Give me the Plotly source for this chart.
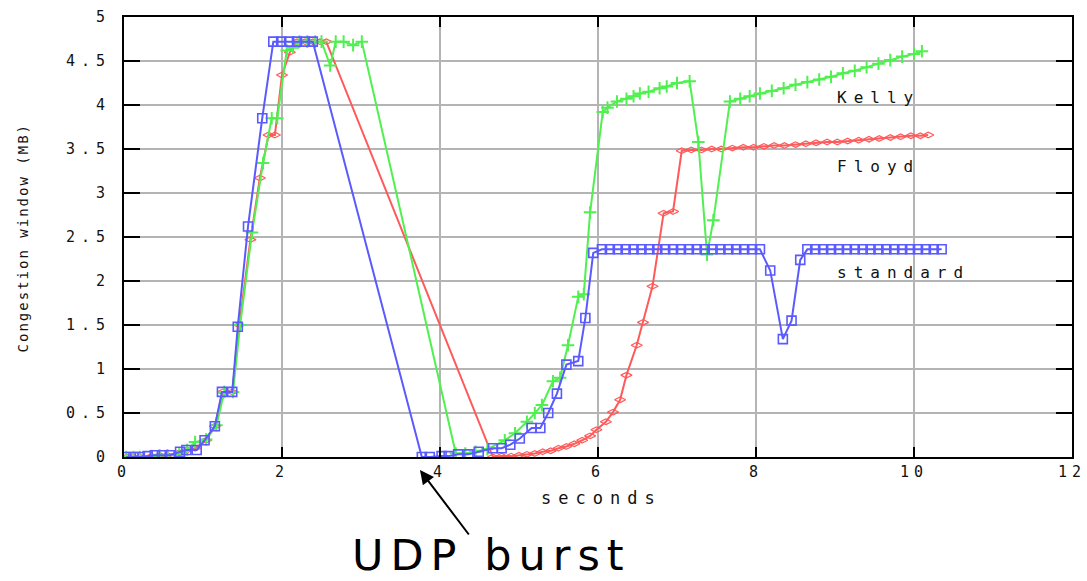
import plotly.graph_objects as go

# ---- data (seconds, congestion window MB) ----
std_x = [0.03, 0.12, 0.2, 0.3, 0.39, 0.48, 0.58, 0.71, 0.79, 0.92, 1.02, 1.15, 1.24, 1.37, 1.44, 1.57, 1.75,
         1.89, 1.99, 2.09, 2.19, 2.29, 2.39,
         3.77, 3.87, 4.02, 4.11, 4.23, 4.36, 4.49, 4.67, 4.78, 4.89, 5.01, 5.16, 5.27, 5.37, 5.48, 5.6, 5.75,
         5.84, 5.94,
         6.05, 6.15, 6.25, 6.35, 6.45, 6.55, 6.65, 6.75, 6.85, 6.95, 7.05, 7.15, 7.25, 7.35, 7.45, 7.55, 7.65,
         7.75, 7.85, 7.95, 8.05,
         8.18, 8.34, 8.45, 8.56,
         8.65, 8.75, 8.85, 8.95, 9.05, 9.15, 9.25, 9.35, 9.45, 9.55, 9.65, 9.75, 9.85, 9.95, 10.05, 10.15,
         10.25, 10.35]
std_y = [0, 0, 0, 0.01, 0.02, 0.02, 0.02, 0.06, 0.08, 0.08, 0.19, 0.35, 0.74, 0.74, 1.48, 2.62, 3.85,
         4.72, 4.72, 4.72, 4.72, 4.72, 4.72,
         0, 0, 0.01, 0.01, 0.03, 0.03, 0.06, 0.1, 0.1, 0.14, 0.21, 0.33, 0.33, 0.5, 0.72, 1.05, 1.09,
         1.58, 2.32,
         2.36, 2.36, 2.36, 2.36, 2.36, 2.36, 2.36, 2.36, 2.36, 2.36, 2.36, 2.36, 2.36, 2.36, 2.36, 2.36, 2.36,
         2.36, 2.36, 2.36, 2.36,
         2.12, 1.34, 1.55, 2.24,
         2.36, 2.36, 2.36, 2.36, 2.36, 2.36, 2.36, 2.36, 2.36, 2.36, 2.36, 2.36, 2.36, 2.36, 2.36, 2.36,
         2.36, 2.36]

kelly_x = [0.03, 0.12, 0.2, 0.35, 0.45, 0.55, 0.7, 0.8, 0.9, 1.04, 1.17, 1.27, 1.38, 1.47, 1.62, 1.76,
           1.87, 1.94, 2.06, 2.14, 2.22, 2.32, 2.42, 2.5, 2.61, 2.68, 2.78, 2.9, 3.01,
           4.2, 4.32, 4.45, 4.6, 4.82, 4.95, 5.1, 5.2, 5.29, 5.43, 5.52, 5.62, 5.75, 5.82, 5.9, 6.06,
           6.12, 6.24, 6.36, 6.45, 6.53, 6.64, 6.78, 6.87, 7.0, 7.16, 7.27, 7.38, 7.46, 7.67,
           7.8, 7.92, 8.05, 8.2, 8.35, 8.5, 8.65, 8.8, 8.95, 9.1, 9.25, 9.4, 9.55, 9.7, 9.85, 10.0, 10.1]
kelly_y = [0, 0, 0, 0.01, 0.02, 0.02, 0.04, 0.08, 0.17, 0.2, 0.36, 0.74, 0.74, 1.5, 2.55, 3.34,
           3.85, 3.85, 4.62, 4.65, 4.72, 4.72, 4.72, 4.72, 4.45, 4.72, 4.72, 4.68, 4.72,
           0.04, 0.04, 0.06, 0.09, 0.19, 0.27, 0.4, 0.5, 0.59, 0.86, 0.9, 1.27, 1.82, 1.85, 2.78, 3.92,
           3.97, 4.04, 4.07, 4.1, 4.13, 4.15, 4.19, 4.21, 4.25, 4.27, 3.58, 2.3, 2.69, 4.04,
           4.07, 4.1, 4.13, 4.16, 4.19, 4.23, 4.26, 4.29, 4.32, 4.36, 4.39, 4.43, 4.47, 4.51, 4.55, 4.58, 4.61]

floyd_x = [0.03, 0.12, 0.2, 0.35, 0.45, 0.55, 0.7, 0.8, 0.9, 1.04, 1.15, 1.25, 1.37, 1.46, 1.6, 1.72,
           1.83, 1.91, 2.0, 2.1, 2.19, 2.29, 2.39, 2.48, 2.56,
           4.67, 4.78, 4.9, 5.0, 5.1, 5.2, 5.3, 5.4, 5.5, 5.6, 5.7, 5.8, 5.9, 5.98, 6.1, 6.19, 6.28, 6.36,
           6.49, 6.57, 6.69, 6.83, 6.95, 7.06,
           7.18, 7.31, 7.44, 7.56, 7.7, 7.84, 7.97, 8.1, 8.23, 8.36, 8.5, 8.63, 8.76, 8.9, 9.03, 9.16,
           9.3, 9.43, 9.56, 9.7, 9.83, 9.96, 10.08, 10.18]
floyd_y = [0, 0, 0, 0.01, 0.02, 0.02, 0.05, 0.08, 0.1, 0.19, 0.35, 0.74, 0.74, 1.5, 2.47, 3.17,
           3.66, 3.66, 4.34, 4.6, 4.72, 4.72, 4.72, 4.72, 4.72,
           0, 0.01, 0.01, 0.02, 0.03, 0.04, 0.06, 0.07, 0.1, 0.12, 0.15, 0.19, 0.24, 0.31, 0.4, 0.51, 0.65,
           0.93, 1.27, 1.53, 1.94, 2.77, 2.79, 3.48,
           3.49, 3.49, 3.5, 3.5, 3.51, 3.52, 3.52, 3.53, 3.54, 3.54, 3.55, 3.56, 3.57, 3.58, 3.58, 3.59,
           3.6, 3.61, 3.62, 3.63, 3.64, 3.65, 3.65, 3.66]

series_labels = ["Kelly", "Floyd", "standard"]
label_x = [9.0, 9.0, 9.0]
label_y = [4.09, 3.3, 2.1]

x_ticks = [0, 2, 4, 6, 8, 10, 12]
y_ticks = [0, 0.5, 1, 1.5, 2, 2.5, 3, 3.5, 4, 4.5, 5]

mono = "DejaVu Sans Mono, monospace"


def spaced(s, px):
    return '<span style="letter-spacing:%dpx">%s</span>' % (px, s)


fig = go.Figure()
fig.add_trace(go.Scatter(x=floyd_x, y=floyd_y, mode="lines+markers", name="Floyd",
                         line=dict(color="rgb(255,90,90)", width=2),
                         marker=dict(symbol="diamond-wide-open", size=8, color="rgb(255,90,90)",
                                     line=dict(width=1.2))))
fig.add_trace(go.Scatter(x=kelly_x, y=kelly_y, mode="lines+markers", name="Kelly",
                         line=dict(color="rgb(80,240,80)", width=2),
                         marker=dict(symbol="cross-thin-open", size=9, color="rgb(80,240,80)",
                                     line=dict(width=2, color="rgb(80,240,80)"))))
fig.add_trace(go.Scatter(x=std_x, y=std_y, mode="lines+markers", name="standard",
                         line=dict(color="rgb(90,90,255)", width=2),
                         marker=dict(symbol="square-open", size=9, color="rgb(90,90,255)",
                                     line=dict(width=1.6))))

annotations = []
for t, lx, ly in zip(series_labels, label_x, label_y):
    annotations.append(dict(x=lx, y=ly, xref="x", yref="y", text=spaced(t, 7), showarrow=False,
                            xanchor="left", yanchor="middle",
                            font=dict(family=mono, size=16, color="#111")))
annotations.append(dict(x=-0.107, y=0.498, xref="paper", yref="paper",
                        text=spaced("Congestion window (MB)", 2),
                        showarrow=False, textangle=-90, xanchor="center", yanchor="middle",
                        font=dict(family=mono, size=14, color="#111")))
annotations.append(dict(x=0.504, y=-0.093, xref="paper", yref="paper", text=spaced("seconds", 7),
                        showarrow=False, xanchor="center", yanchor="middle",
                        font=dict(family=mono, size=17, color="#111")))
annotations.append(dict(x=0.3122, y=-0.0295, xref="paper", yref="paper", ax=50, ay=66,
                        axref="pixel", ayref="pixel",
                        text="", showarrow=True, arrowhead=2, arrowsize=1.4, arrowwidth=2,
                        arrowcolor="black"))
annotations.append(dict(x=0.388, y=-0.2227, xref="paper", yref="paper", text=spaced("UDP burst", 7),
                        showarrow=False, xanchor="center", yanchor="middle",
                        font=dict(family="DejaVu Sans, sans-serif", size=43, color="black")))

fig.update_layout(
    width=1087, height=581,
    margin=dict(l=124, r=15, t=17, b=124, autoexpand=False),
    paper_bgcolor="white", plot_bgcolor="white",
    showlegend=False,
    annotations=annotations,
    xaxis=dict(range=[0, 12], tickvals=x_ticks, ticktext=[spaced(str(v), 5) for v in x_ticks],
               automargin=False, ticklabeloverflow="allow",
               showgrid=True, gridcolor="#b4b4b4", gridwidth=2,
               showline=True, linecolor="black", linewidth=2, mirror="ticks",
               ticks="inside", ticklen=10, tickwidth=2, tickcolor="black",
               zeroline=False, tickfont=dict(family=mono, size=15, color="#111")),
    yaxis=dict(range=[0, 5], tickvals=y_ticks, ticktext=[spaced("%g" % v, 6) for v in y_ticks],
               automargin=False, ticklabeloverflow="allow", ticklabelstandoff=8,
               showgrid=True, gridcolor="#b4b4b4", gridwidth=2,
               showline=True, linecolor="black", linewidth=2, mirror="ticks",
               ticks="inside", ticklen=16, tickwidth=2, tickcolor="black",
               zeroline=False, tickfont=dict(family=mono, size=15, color="#111")),
)

fig.write_html("out.html")
